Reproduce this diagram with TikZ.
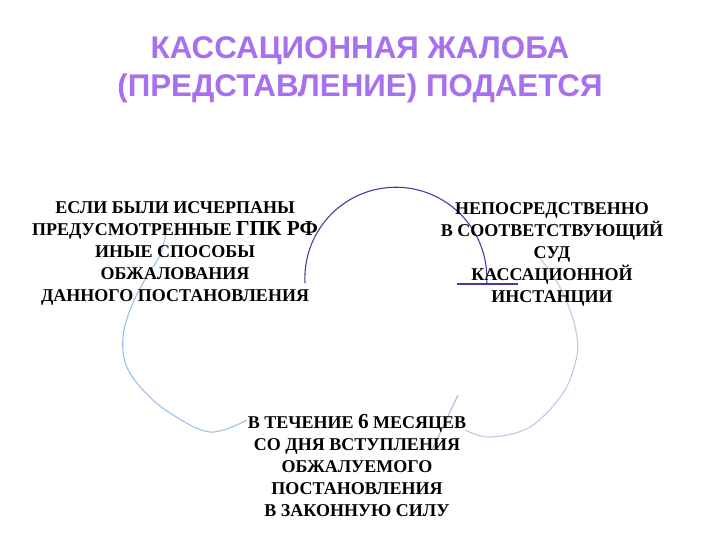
\documentclass[tikz,border=0pt]{standalone}
\usepackage{fontspec}
\setmainfont{Liberation Serif}
\newfontfamily\headfont{Liberation Sans}
\usetikzlibrary{positioning}

\definecolor{headpurple}{RGB}{166,112,238}
\definecolor{darkarc}{RGB}{62,60,158}
\definecolor{bluearc}{RGB}{150,192,232}
\definecolor{lilacarc}{RGB}{196,196,232}
\definecolor{greyline}{RGB}{176,184,222}

\tikzset{
  heading/.style={font=\headfont\bfseries\fontsize{23.5}{28.5}\selectfont, text=headpurple, align=center, inner sep=0pt},
  textblock/.style={font=\bfseries\fontsize{13.5}{16.5}\selectfont, align=center, inner sep=0pt},
}
\newcommand{\bigpart}[1]{{\fontsize{16}{16.5}\selectfont #1}}

\begin{document}
\begin{tikzpicture}[x=0.75pt,y=-0.75pt]
\useasboundingbox (0,0) rectangle (720,540);
% Draw the three arcs of the cycle
\draw[darkarc, thick] (305,283) arc (177:363:91);
\draw[darkarc, thick] (457,284) -- (518,284);
\draw[bluearc, thick] plot[smooth, tension=0.6] coordinates {(166,232) (160,255) (143,283) (130,310) (123,337) (126,365) (143,390) (170,413) (210,432) (247,420)};
\draw[lilacarc, thick] plot[smooth, tension=0.6] coordinates {(537,254) (557,282) (570,310) (577,337) (576,360) (563,393) (530,427) (490,437) (465,430)};
\draw[greyline, thick] (458,395) -- (432,450);
% Title
\node[heading] at (360,70) (Title) {КАССАЦИОННАЯ ЖАЛОБА\\(ПРЕДСТАВЛЕНИЕ) ПОДАЕТСЯ};
% Text of the three parts
\node[textblock] at (175,253) (Exhausted) {ЕСЛИ БЫЛИ ИСЧЕРПАНЫ\\ПРЕДУСМОТРЕННЫЕ \bigpart{ГПК РФ}\\ИНЫЕ СПОСОБЫ\\ОБЖАЛОВАНИЯ\\ДАННОГО ПОСТАНОВЛЕНИЯ};
\node[textblock] at (552,254) (Court) {НЕПОСРЕДСТВЕННО\\В СООТВЕТСТВУЮЩИЙ\\СУД\\КАССАЦИОННОЙ\\ИНСТАНЦИИ};
\node[textblock] at (357,466) (Term) {В ТЕЧЕНИЕ \bigpart{6} МЕСЯЦЕВ\\СО ДНЯ ВСТУПЛЕНИЯ\\ОБЖАЛУЕМОГО\\ПОСТАНОВЛЕНИЯ\\В ЗАКОННУЮ СИЛУ};
\end{tikzpicture}
\end{document}
